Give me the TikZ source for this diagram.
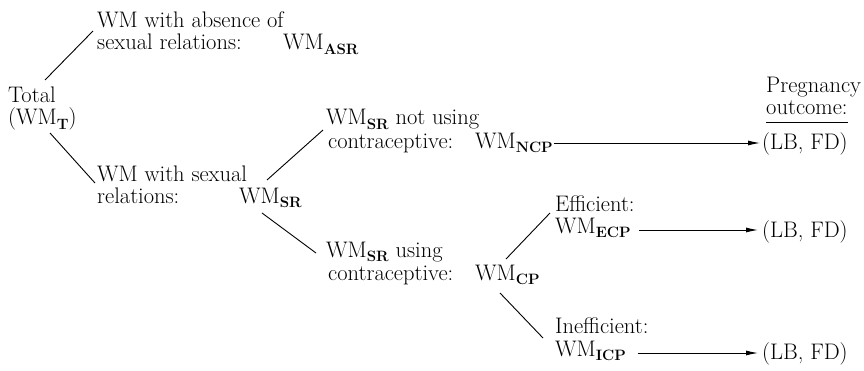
\documentclass[tikz,border=0pt]{standalone}
\usetikzlibrary{arrows.meta}
\newcommand\sbs[1]{\raisebox{-4.8pt}[0pt][0pt]{\fontsize{15}{15}\selectfont\bfseries #1}}
\begin{document}
\begin{tikzpicture}[x=1pt,y=1pt,
  txt/.style={font=\fontsize{22.5}{22}\selectfont, inner sep=0pt, anchor=base west},
  ln/.style={line width=0.9pt},
  arr/.style={line width=0.9pt,-{Latex[length=12pt,width=5pt]}}]
\useasboundingbox (0,0) rectangle (864,370);
% text nodes
\node[txt] (abs1) at (97,342) {WM with absence of};
\node[txt] (abs2) at (97,320) {sexual relations:};
\node[txt] (asr) at (283,320) {WM\sbs{ASR}};
\node[txt] (tot1) at (8,267) {Total};
\node[txt] (tot2) at (8,245) {(WM\sbs{T})};
\node[txt] (sr1) at (97,189) {WM with sexual};
\node[txt] (sr2) at (97,167) {relations:};
\node[txt] (srv) at (239,167) {WM\sbs{SR}};
\node[txt] (ncp1) at (326,245) {WM\sbs{SR} not using};
\node[txt] (ncp2) at (328,222) {contraceptive:};
\node[txt] (ncp) at (475,222) {WM\sbs{NCP}};
\node[txt] (cp1) at (326,113) {WM\sbs{SR} using};
\node[txt] (cp2) at (328,90) {contraceptive:};
\node[txt] (cp) at (475,90) {WM\sbs{CP}};
\node[txt] (ecp1) at (555,159) {Efficient:};
\node[txt] (ecp) at (555,137) {WM\sbs{ECP}};
\node[txt] (icp1) at (555,37) {Inefficient:};
\node[txt] (icp) at (555,14) {WM\sbs{ICP}};
\node[txt] (preg1) at (766,277) {Pregnancy};
\node[txt] (preg2) at (766,255) {outcome:};
\node[txt] (lb1) at (762,220) {(LB, FD)};
\node[txt] (lb2) at (762,133) {(LB, FD)};
\node[txt] (lb3) at (762,11) {(LB, FD)};
% underline
\draw[line width=0.8pt] ([yshift=-7pt]preg2.base west) -- ([yshift=-7pt]preg2.base east);
% tree branches
\coordinate (l1a) at (45,290); \coordinate (l1b) at (93,339);
\coordinate (l2a) at (50,237); \coordinate (l2b) at (95,187);
\coordinate (l3a) at (267,190); \coordinate (l3b) at (323,240);
\coordinate (l4a) at (262,157); \coordinate (l4b) at (316,117);
\coordinate (l5a) at (506,111); \coordinate (l5b) at (550,157);
\coordinate (l6a) at (500,77); \coordinate (l6b) at (543,32);
\draw[ln] (l1a) -- (l1b);
\draw[ln] (l2a) -- (l2b);
\draw[ln] (l3a) -- (l3b);
\draw[ln] (l4a) -- (l4b);
\draw[ln] (l5a) -- (l5b);
\draw[ln] (l6a) -- (l6b);
% arrows
\coordinate (a1) at ([xshift=-2pt,yshift=7pt]lb1.base west);
\coordinate (a2) at ([xshift=-4pt,yshift=7pt]lb2.base west);
\coordinate (a3) at ([xshift=-4pt,yshift=6pt]lb3.base west);
\draw[arr] ([xshift=1pt]ncp.east |- a1) -- (a1);
\draw[arr] ([xshift=8pt]ecp.east |- a2) -- (a2);
\draw[arr] ([xshift=12pt]icp.east |- a3) -- (a3);
\end{tikzpicture}
\end{document}
